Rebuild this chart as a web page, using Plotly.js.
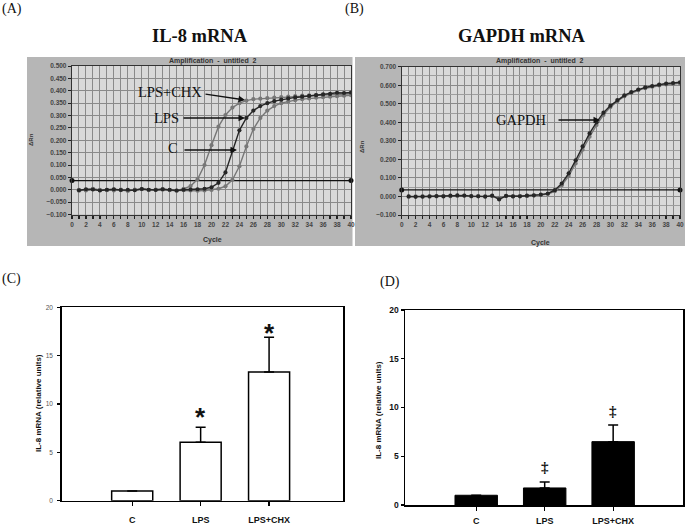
<!DOCTYPE html>
<html><head><meta charset="utf-8">
<script src="https://cdn.plot.ly/plotly-3.0.1.min.js"></script>
<style>html,body{margin:0;padding:0;background:#fff}#chart{width:685px;height:527px}</style>
</head><body><div id="chart"></div>
<script>
// ---------- data ----------
const cycles = [1,2,3,4,5,6,7,8,9,10,11,12,13,14,15,16,17,18,19,20,21,22,23,24,25,26,27,28,29,30,31,32,33,34,35,36,37,38,39,40];
const ampLpsChx = [-0.004,0.000,0.004,-0.002,0.000,-0.003,0.001,-0.004,0.001,0.003,-0.001,0.000,0.003,-0.001,-0.004,0.004,0.015,0.042,0.100,0.180,0.255,0.302,0.332,0.350,0.360,0.366,0.368,0.370,0.372,0.374,0.376,0.378,0.380,0.381,0.382,0.383,0.384,0.386,0.387,0.388];
const ampLps = [-0.002,0.002,0.001,-0.003,0.000,0.002,-0.001,0.000,-0.002,0.003,0.000,-0.001,0.002,0.000,-0.003,0.000,0.001,0.002,0.004,0.010,0.028,0.070,0.160,0.240,0.290,0.320,0.338,0.350,0.358,0.364,0.369,0.373,0.376,0.379,0.382,0.385,0.387,0.392,0.391,0.393];
const ampC = [0.000,-0.003,0.002,0.000,-0.002,0.001,-0.002,-0.004,0.000,0.002,-0.001,0.001,0.000,-0.002,-0.003,-0.002,-0.003,-0.004,-0.003,-0.001,0.004,0.014,0.040,0.095,0.175,0.245,0.290,0.320,0.338,0.350,0.357,0.362,0.366,0.369,0.372,0.374,0.376,0.378,0.380,0.382];
const gapdhA = [0.000,-0.002,-0.001,0.001,0.002,0.000,0.004,0.006,0.005,0.002,0.001,-0.001,0.004,-0.016,0.003,0.000,0.001,0.004,0.006,0.010,0.016,0.034,0.070,0.125,0.195,0.270,0.340,0.400,0.452,0.490,0.520,0.545,0.563,0.577,0.588,0.596,0.603,0.609,0.612,0.616];
const gapdhB = [-0.002,0.000,0.001,-0.001,0.000,0.002,0.001,0.003,0.004,0.000,0.002,0.001,0.002,-0.008,0.002,0.001,0.002,0.003,0.005,0.008,0.013,0.028,0.060,0.110,0.178,0.252,0.322,0.385,0.440,0.482,0.514,0.540,0.558,0.573,0.584,0.592,0.599,0.604,0.607,0.610];
const thresholdX = [0, 40];
const thresholdIL8 = [0.037, 0.037];
const thresholdGAPDH = [0.035, 0.035];

const groups = ['C', 'LPS', 'LPS+CHX'];
const il8Rel = [1.0, 6.05, 13.3];
const il8Err = [0, 1.55, 3.6];
const il8Sig = ['', '*', '*'];
const il8SigY = [null, 9.4, 18.1];
const chxRel = [1.0, 1.75, 6.5];
const chxErr = [0, 0.6, 1.7];
const chxSig = ['', '\u2021', '\u2021'];
const chxSigY = [null, 3.9, 9.6];

// ---------- helpers ----------
const W = 685, H = 527;
const px = x => x / W, py = y => 1 - y / H;
const SERIF = '"Liberation Serif", "Times New Roman", serif';
const SANS = '"Liberation Sans", Arial, sans-serif';
const GRID = '#8a8a8a';

function ampX(dom, anchor) {
  return {domain: dom, anchor: anchor, range: [0, 40], dtick: 2, tick0: 0,
    showgrid: true, gridcolor: GRID, gridwidth: 1, zeroline: false,
    showline: true, linecolor: '#333', linewidth: 1.2, mirror: true,
    ticks: 'outside', ticklen: 3, tickcolor: '#222', tickwidth: 1.2,
    tickfont: {family: SANS, size: 6.5, color: '#444', weight: 'bold'},
    minor: {dtick: 1, showgrid: true, gridcolor: GRID, gridwidth: 1, ticks: 'outside', ticklen: 3, tickcolor: '#222', tickwidth: 1.2}};
}
function ampY(dom, anchor, range, dtick, minor) {
  const o = {domain: dom, anchor: anchor, range: range, dtick: dtick, tick0: 0, tickformat: '.3f',
    showgrid: true, gridcolor: GRID, gridwidth: 1, zeroline: false,
    showline: true, linecolor: '#333', linewidth: 1.2, mirror: true,
    ticks: 'outside', ticklen: 3, tickcolor: '#222',
    tickfont: {family: SANS, size: 6.5, color: '#444', weight: 'bold'}};
  if (minor) o.minor = {dtick: minor, showgrid: true, gridcolor: '#9e9e9e', gridwidth: 1};
  return o;
}
function barX(dom, anchor, range, fsize, standoff) {
  return {domain: dom, anchor: anchor, type: 'category', range: range,
    showline: true, linecolor: '#000', linewidth: 1.5, mirror: true,
    ticks: 'outside', ticklen: 4, tickcolor: '#000', tickwidth: 1.2, ticklabelstandoff: standoff,
    showgrid: false, zeroline: false,
    tickfont: {family: SANS, size: fsize, color: '#111', weight: 'bold'}};
}
function barY(dom, anchor, fcol, fsize, weight, standoff) {
  return {domain: dom, anchor: anchor, range: [0, 20], dtick: 5, tick0: 0,
    showline: true, linecolor: '#000', linewidth: 1.5, mirror: true,
    ticks: 'outside', ticklen: 3, tickcolor: '#000', tickwidth: 1.2, ticklabelstandoff: standoff,
    showgrid: false, zeroline: false,
    tickfont: {family: SANS, size: fsize, color: fcol, weight: weight}};
}

function ampTrace(y, color, xa, ya) {
  return {x: cycles, y: y, xaxis: xa, yaxis: ya, type: 'scatter', mode: 'lines+markers',
    line: {color: color, width: 1.4}, marker: {color: color, size: 4.2}, hoverinfo: 'skip', showlegend: false};
}

const traces = [
  {x: thresholdX, y: thresholdIL8, xaxis: 'x', yaxis: 'y', mode: 'lines+markers', line: {color: '#111', width: 1.3},
   marker: {color: '#111', size: 5}, cliponaxis: false, showlegend: false},
  ampTrace(ampC, '#777777', 'x', 'y'),
  ampTrace(ampLpsChx, '#777777', 'x', 'y'),
  ampTrace(ampLps, '#262626', 'x', 'y'),
  {x: thresholdX, y: thresholdGAPDH, xaxis: 'x2', yaxis: 'y2', mode: 'lines+markers', line: {color: '#111', width: 1.3},
   marker: {color: '#111', size: 5}, cliponaxis: false, showlegend: false},
  ampTrace(gapdhB, '#777777', 'x2', 'y2'),
  ampTrace(gapdhA, '#262626', 'x2', 'y2'),
  {type: 'bar', x: groups, y: il8Rel, xaxis: 'x3', yaxis: 'y3', width: 0.6,
   marker: {color: '#fff', line: {color: '#000', width: 1.5}},
   error_y: {type: 'data', symmetric: false, array: il8Err, arrayminus: [0, 0, 0], color: '#000', thickness: 1.5, width: 5},
   showlegend: false},
  {type: 'bar', x: groups, y: chxRel, xaxis: 'x4', yaxis: 'y4', width: 0.62,
   marker: {color: '#000', line: {color: '#000', width: 1}},
   error_y: {type: 'data', symmetric: false, array: chxErr, arrayminus: [0, 0, 0], color: '#000', thickness: 1.5, width: 5},
   showlegend: false}
];

const annotations = [];
function txt(x, y, text, font, extra) {
  annotations.push(Object.assign({xref: 'paper', yref: 'paper', x: px(x), y: py(y), text: text,
    showarrow: false, xanchor: 'center', yanchor: 'middle', font: font}, extra || {}));
}
const panelFont = {family: SERIF, size: 14, color: '#111'};
txt(11.5, 9, '(A)', panelFont);
txt(354, 9, '(B)', panelFont);
txt(11, 279, '(C)', panelFont);
txt(390, 282, '(D)', panelFont);
const bigFont = {family: SERIF, size: 18.5, color: '#111', weight: 'bold'};
txt(200, 36, 'IL-8 mRNA', bigFont);
txt(522, 36, 'GAPDH mRNA', bigFont);
const hdrFont = {family: SANS, size: 7, color: '#333', weight: 'bold'};
txt(213, 61, 'Amplification  -  untitled  2', hdrFont);
txt(540, 61, 'Amplification  -  untitled  2', hdrFont);
txt(213, 240, 'Cycle', hdrFont);
txt(540, 243, 'Cycle', hdrFont);
txt(31, 140, '\u0394Rn', {family: SANS, size: 6, color: '#333', weight: 'bold'}, {textangle: -90});
txt(362, 147, '\u0394Rn', {family: SANS, size: 6, color: '#333', weight: 'bold'}, {textangle: -90});
const yTitleFont = {family: SANS, size: 8, color: '#111', weight: 'bold'};
txt(38, 403, 'IL-8 mRNA (relative units)', yTitleFont, {textangle: -90});
txt(378, 410, 'IL-8 mRNA (relative units)', yTitleFont, {textangle: -90});

// curve labels with arrows
const lblFont = {family: SERIF, size: 14.5, color: '#111'};
txt(170, 92, 'LPS+CHX', lblFont);
txt(166, 118, 'LPS', lblFont);
txt(173, 148, 'C', lblFont);
txt(520.5, 120, 'GAPDH', lblFont);
function arrow(tx, ty, ax, ay) {
  annotations.push({xref: 'paper', yref: 'paper', x: px(tx), y: py(ty), text: '', showarrow: true,
    ax: ax, ay: ay, arrowhead: 2, arrowsize: 1, arrowwidth: 1.3, arrowcolor: '#111', standoff: 0, startstandoff: 0});
}
arrow(245, 100, -41, -6);
arrow(245, 118, -63, 0);
arrow(237, 150, -54, 0);
arrow(600, 120, -43, 0);

// significance marks
groups.forEach((g, i) => {
  if (il8Sig[i]) annotations.push({xref: 'x3', yref: 'y3', x: g, y: il8SigY[i], text: il8Sig[i], showarrow: false,
    yanchor: 'middle', yshift: -7, font: {family: SANS, size: 26, color: '#111', weight: 'bold'}});
  if (chxSig[i]) annotations.push({xref: 'x4', yref: 'y4', x: g, y: chxSigY[i], text: chxSig[i], showarrow: false,
    yanchor: 'middle', font: {family: SERIF, size: 15, color: '#111', weight: 'bold'}});
});

const shapes = [
  {type: 'rect', xref: 'paper', yref: 'paper', x0: px(27), x1: px(352.5), y0: py(246), y1: py(57), fillcolor: '#b6b6b6', line: {width: 0}, layer: 'below'},
  {type: 'rect', xref: 'paper', yref: 'paper', x0: px(355), x1: px(685), y0: py(246), y1: py(57), fillcolor: '#b6b6b6', line: {width: 0}, layer: 'below'},
  {type: 'rect', xref: 'x domain', yref: 'y domain', x0: 0, x1: 1, y0: 0, y1: 1, fillcolor: '#d9d9d9', line: {width: 0}, layer: 'below'},
  {type: 'rect', xref: 'x2 domain', yref: 'y2 domain', x0: 0, x1: 1, y0: 0, y1: 1, fillcolor: '#d9d9d9', line: {width: 0}, layer: 'below'}
];

const layout = {
  width: W, height: H, margin: {l: 0, r: 0, t: 0, b: 0},
  paper_bgcolor: '#fff', plot_bgcolor: 'rgba(0,0,0,0)', showlegend: false,
  xaxis: ampX([px(72), px(351)], 'y'),
  yaxis: ampY([py(214.5), py(66)], 'x', [-0.1, 0.5], 0.05, null),
  xaxis2: ampX([px(401.7), px(680)], 'y2'),
  yaxis2: ampY([py(215), py(66.7)], 'x2', [-0.1, 0.7], 0.1, 0.05),
  xaxis3: barX([px(61.7), px(343)], 'y3', [-1.03, 3.08], 9, 6),
  yaxis3: barY([py(500.7), py(307.3)], 'x3', '#555', 6.5, 'normal', 3),
  xaxis4: barX([px(405), px(683)], 'y4', [-1.04, 3.02], 9, 3),
  yaxis4: barY([py(505), py(310)], 'x4', '#111', 8.5, 'bold', 0),
  annotations: annotations, shapes: shapes
};
Plotly.newPlot('chart', traces, layout, {displayModeBar: false, staticPlot: true});
</script>
</body></html>
